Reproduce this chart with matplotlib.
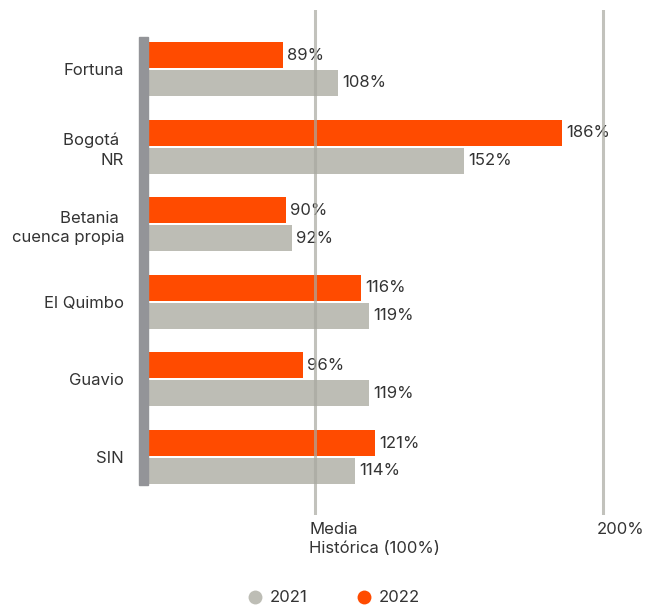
import matplotlib
matplotlib.use("Agg")
import matplotlib.pyplot as plt
from matplotlib.lines import Line2D
from matplotlib.patches import Rectangle
import matplotlib.transforms as mtransforms

plt.rcParams['font.family'] = ['Inter', 'DejaVu Sans']

categories = ["Fortuna", "Bogotá \nNR", "Betania \ncuenca propia", "El Quimbo", "Guavio", "SIN"]
values_2022 = [89, 186, 90, 116, 96, 121]
values_2021 = [108, 152, 92, 119, 119, 114]
ref_values = [100, 200]
ref_labels = ["Media\nHistórica (100%)", "200%"]
series_names = ["2021", "2022"]

c2022 = "#FF4B00"
c2021 = "#BDBDB5"
text_c = "#333333"
fs = 12

W, H = 649, 605
fig = plt.figure(figsize=(W / 100, H / 100), dpi=100)
ax = fig.add_axes([149 / W, (H - 515) / H, 500 / W, 505 / H])

xmin = 42.5
xmax = xmin + 500 / 2.88
ax.set_xlim(xmin, xmax)
ax.set_ylim(5.747, -0.76)

off = 0.18
h = 0.335
ys = list(range(len(categories)))
ax.barh([y - off for y in ys], values_2022, height=h, color=c2022, zorder=2)
ax.barh([y + off for y in ys], values_2021, height=h, color=c2021, zorder=2)

for y, v in zip(ys, values_2022):
    ax.annotate(f"{v}%", (v, y - off), xytext=(3, 0), textcoords="offset points",
                va="center", ha="left", fontsize=fs, color=text_c)
for y, v in zip(ys, values_2021):
    ax.annotate(f"{v}%", (v, y + off), xytext=(3, 0), textcoords="offset points",
                va="center", ha="left", fontsize=fs, color=text_c)

for rv in ref_values:
    ax.axvline(rv, color="#a8a8a0", alpha=0.7, lw=2.2, zorder=3)

for rv, lab in zip(ref_values, ref_labels):
    ax.annotate(lab, (rv, 0), xycoords=("data", "axes fraction"), xytext=(-4, -5),
                textcoords="offset points", ha="left", va="top", fontsize=fs,
                color=text_c, linespacing=1.35, annotation_clip=False)

# thick grey left band
trans = mtransforms.blended_transform_factory(ax.transAxes, ax.transData)
ax.add_patch(Rectangle((-10 / 500, -0.41), 9 / 500, 5.36 + 0.41, transform=trans,
                       color="#939498", clip_on=False, zorder=4))

ax.set_yticks(ys)
ax.set_yticklabels(categories, fontsize=fs, color=text_c, linespacing=1.35)
ax.tick_params(axis="y", length=0, pad=18)
ax.set_xticks([])
for s in ax.spines.values():
    s.set_visible(False)

handles = [Line2D([], [], marker="o", ls="none", markersize=10, color=c2021, markeredgewidth=0),
           Line2D([], [], marker="o", ls="none", markersize=10, color=c2022, markeredgewidth=0)]
fig.legend(handles, series_names, loc="center", bbox_to_anchor=(0.515, 1 - 598 / H),
           ncol=2, frameon=False, fontsize=fs, handlelength=0.8, handletextpad=0.5,
           columnspacing=3.0, labelcolor=text_c)

fig.savefig("out.png", dpi=100)
